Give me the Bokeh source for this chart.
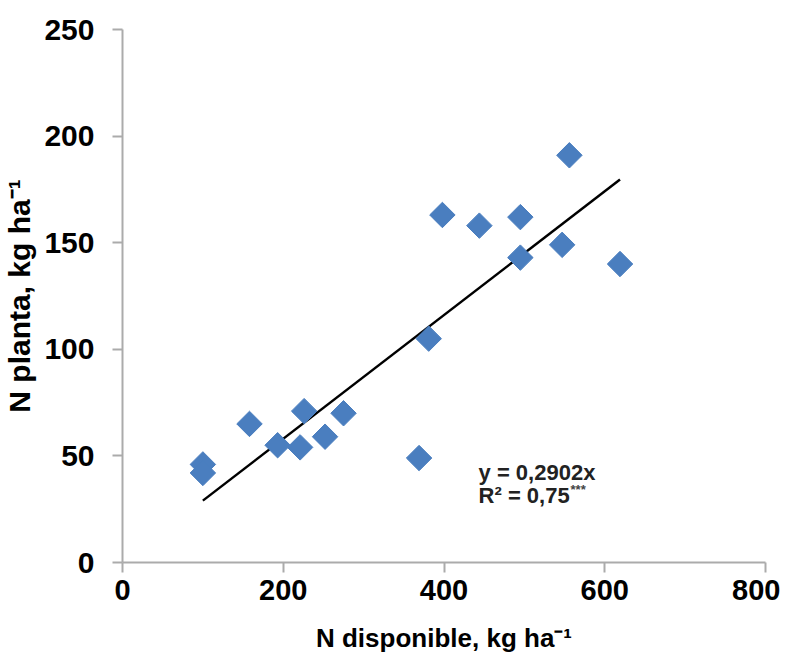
import numpy as np
from bokeh.plotting import figure
from bokeh.models import Range1d, FixedTicker, ColumnDataSource
from bokeh.core.properties import value
from bokeh.embed import file_html
from bokeh.resources import INLINE

# Data
n_disponible = [100, 100, 158, 193, 221, 226, 252, 275, 369, 381, 398, 444, 495, 495, 547, 556, 619]
n_planta = [46, 42, 65, 55, 54, 71, 59, 70, 49, 105, 163, 158, 162, 143, 149, 191, 140]
slope = 0.2902
eq_text = "y = 0,2902x"
r2_text = "R² = 0,75"
r2_stars = "***"
x_ticks = [0, 200, 400, 600, 800]
y_ticks = [0, 50, 100, 150, 200, 250]
x_label = "N disponible, kg ha⁻¹"
y_label = "N planta, kg ha⁻¹"

FONT = "Liberation Sans"

p = figure(width=780, height=655, output_backend="svg", toolbar_location=None,
           x_range=Range1d(0, 800), y_range=Range1d(0, 250),
           min_border_left=117, min_border_right=15, min_border_top=29, min_border_bottom=90)
p.outline_line_color = None
p.grid.visible = False
p.background_fill_color = "white"

src = ColumnDataSource(dict(x=n_disponible, y=n_planta))
xs = np.array([min(n_disponible), max(n_disponible)], dtype=float)
p.line(xs, slope * xs, line_color="black", line_width=2.5)
p.scatter("x", "y", source=src, marker="square", angle=np.pi / 4, size=18,
          fill_color="#4A7EBF", line_color="#4A7EBF")

p.text(x=[443], y=[42], text=[eq_text], text_font=value(FONT), text_font_style="bold",
       text_font_size="22px", text_baseline="middle", text_align="left", text_color="#222222")
p.text(x=[443], y=[31.5], text=[r2_text], text_font=value(FONT), text_font_style="bold",
       text_font_size="22px", text_baseline="middle", text_align="left", text_color="#222222")
p.text(x=[443], y=[31.5], text=[r2_stars], text_font=value(FONT), text_font_style="bold",
       text_font_size="13px", text_baseline="middle", text_align="left", text_color="#444444",
       x_offset=92, y_offset=-6)

for ax in (p.xaxis[0], p.yaxis[0]):
    ax.axis_line_color = "#ABABAB"
    ax.axis_line_width = 2
    ax.major_tick_line_color = "#ABABAB"
    ax.major_tick_line_width = 2
    ax.major_tick_out = 10
    ax.major_tick_in = 0
    ax.minor_tick_line_color = None
    ax.major_label_text_font = FONT
    ax.major_label_text_font_style = "bold"
    ax.major_label_text_color = "black"
    ax.axis_label_text_font = FONT
    ax.axis_label_text_font_style = "bold"
    ax.axis_label_text_color = "black"

p.xaxis.ticker = FixedTicker(ticks=x_ticks)
p.yaxis.ticker = FixedTicker(ticks=y_ticks)
p.xaxis.major_label_text_font_size = "29px"
p.yaxis.major_label_text_font_size = "30px"
p.xaxis.major_label_standoff = 7
p.yaxis.major_label_standoff = 18
p.xaxis.axis_label = x_label
p.yaxis.axis_label = y_label
p.xaxis.axis_label_text_font_size = "26px"
p.yaxis.axis_label_text_font_size = "30px"
p.xaxis.axis_label_standoff = 20
p.yaxis.axis_label_standoff = 5

open("out.html", "w").write(file_html(p, INLINE))
